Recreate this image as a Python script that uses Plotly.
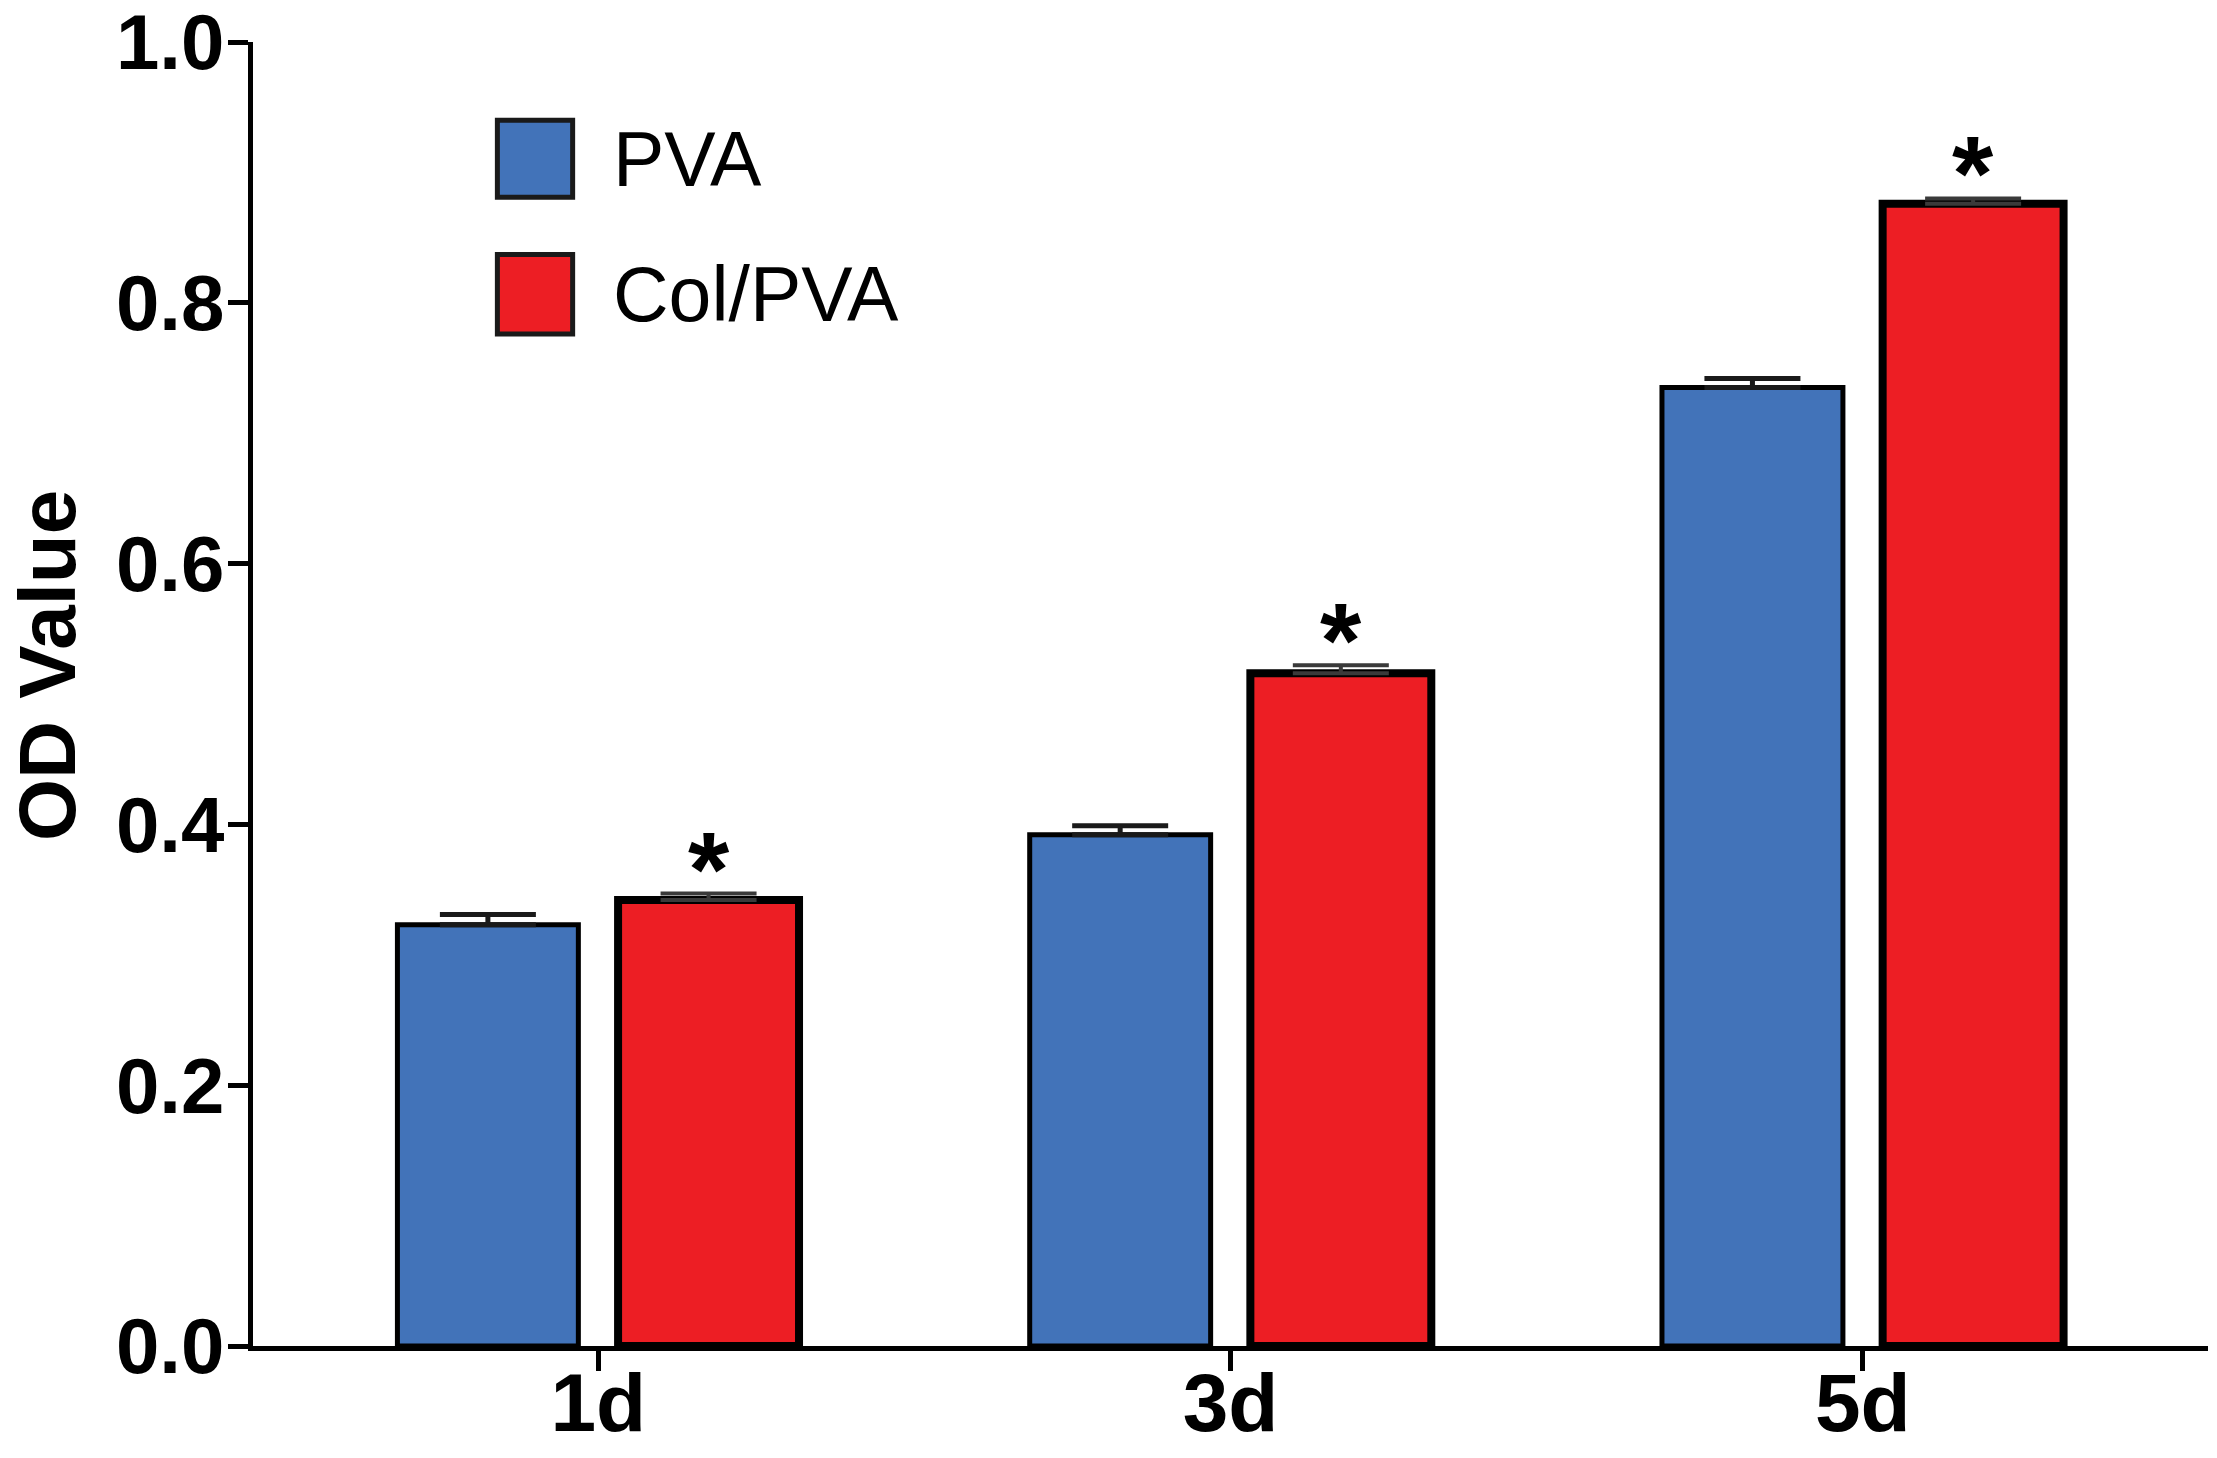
import plotly.graph_objects as go

days = ["1d", "3d", "5d"]
pva_values = [0.323, 0.392, 0.735]
pva_errors = [0.008, 0.007, 0.007]
col_values = [0.342, 0.516, 0.876]
col_errors = [0.005, 0.006, 0.004]
significance = ["*", "*", "*"]

blue = "#4273B9"
red = "#ED1E24"
font_family = "Liberation Sans, Arial, sans-serif"

fig = go.Figure()

fig.add_trace(go.Bar(
    x=days, y=pva_values, name="PVA",
    marker=dict(color=blue, line=dict(color="black", width=5)),
    error_y=dict(type="data", array=pva_errors, arrayminus=[0] * len(days),
                 symmetric=False, color="#1a1a1a", thickness=5, width=48),
))
fig.add_trace(go.Bar(
    x=days, y=col_values, name="Col/PVA",
    marker=dict(color=red, line=dict(color="black", width=8)),
    error_y=dict(type="data", array=col_errors, arrayminus=[0] * len(days),
                 symmetric=False, color="#3a3a3a", thickness=4, width=48),
))

# asterisks over the Col/PVA bars (right bar of each group)
bar_offset = 0.1745
for i, mark in enumerate(significance):
    fig.add_annotation(
        x=i + bar_offset, y=col_values[i] + col_errors[i],
        text=mark, showarrow=False, yanchor="bottom", yshift=-36,
        font=dict(family=font_family, size=106, color="black", weight="bold"),
    )

# legend drawn by hand so the swatches can be large
legend_items = [("PVA", blue, 0.940, 0.881), ("Col/PVA", red, 0.837, 0.776)]
for label, color, top, bottom in legend_items:
    fig.add_shape(type="rect", xref="paper", yref="paper",
                  x0=0.125, x1=0.1635, y0=bottom, y1=top,
                  fillcolor=color, line=dict(color="#1a1a1a", width=5))
    fig.add_annotation(xref="paper", yref="paper", x=0.183, y=(top + bottom) / 2,
                       text=label, showarrow=False, xanchor="left", yanchor="middle",
                       font=dict(family=font_family, size=77, color="black"))

# y axis title, sitting a little above the middle like the original
fig.add_annotation(xref="paper", yref="paper", x=-0.105, y=0.522,
                   text="OD Value", textangle=-90, showarrow=False,
                   xanchor="center", yanchor="middle",
                   font=dict(family=font_family, size=80, color="black", weight="bold"))

fig.update_layout(
    width=2201, height=1442,
    margin=dict(l=245, r=1, t=34, b=104),
    paper_bgcolor="white", plot_bgcolor="white",
    barmode="group", bargap=0.302, bargroupgap=0.18,
    showlegend=False,
    font=dict(family=font_family, color="black"),
)
fig.update_xaxes(
    range=[-0.546, 2.546], automargin=False,
    showline=True, linecolor="black", linewidth=5,
    ticks="outside", ticklen=20, tickwidth=5, tickcolor="black",
    tickfont=dict(family=font_family, size=82, color="black", weight="bold"),
    ticklabelstandoff=-38, ticklabeloverflow="allow",
    showgrid=False,
)
fig.update_yaxes(
    range=[0, 1], dtick=0.2, tickformat=".1f", automargin=False,
    showline=True, linecolor="black", linewidth=5,
    ticks="outside", ticklen=20, tickwidth=5, tickcolor="black",
    tickfont=dict(family=font_family, size=78, color="black", weight="bold"),
    ticklabelstandoff=-12, ticklabeloverflow="allow",
    showgrid=False, zeroline=False,
)

fig.write_html("out.html")
